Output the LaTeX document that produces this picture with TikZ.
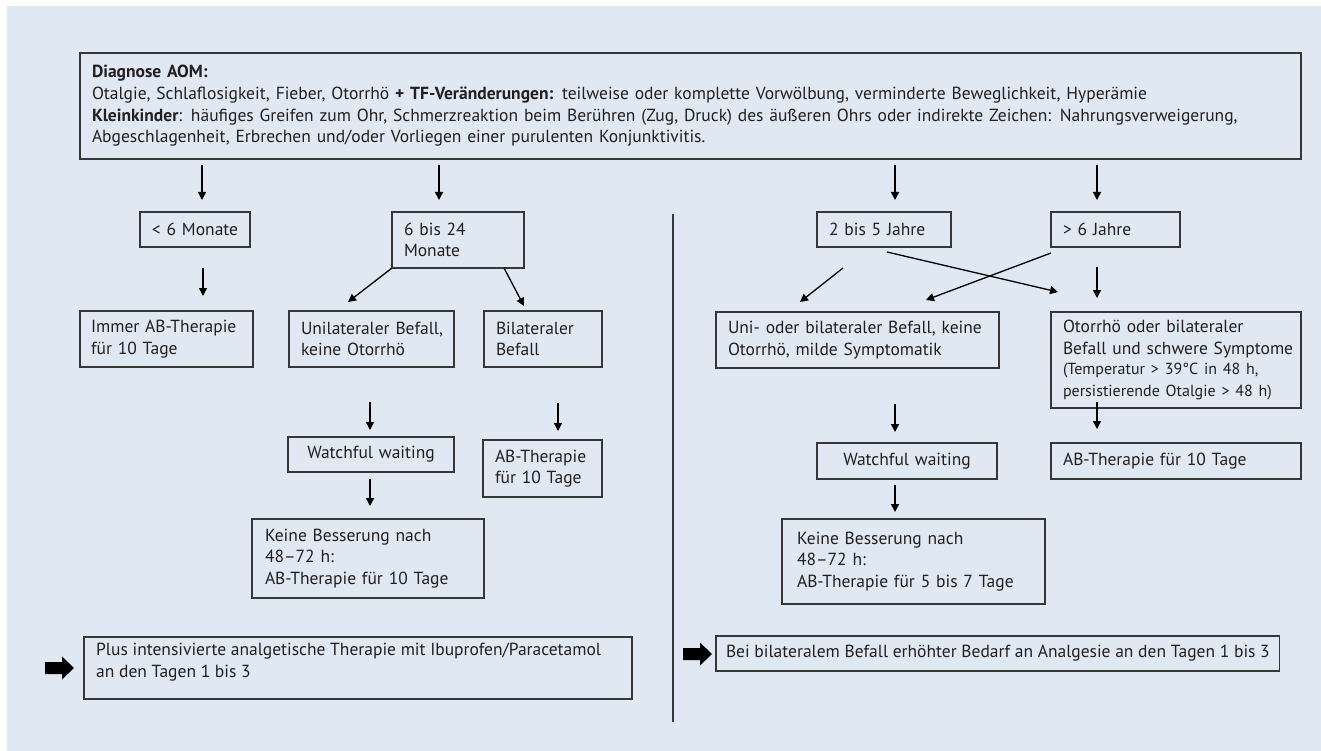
\documentclass[tikz,border=0pt]{standalone}
\usepackage{fontspec}
\setmainfont{PT Sans}
\usetikzlibrary{arrows.meta,calc}
\definecolor{bgblue}{RGB}{223,232,243}
\definecolor{bordergray}{RGB}{55,55,55}
\definecolor{txt}{RGB}{35,31,32}
\begin{document}
\begin{tikzpicture}[x=1pt,y=-1pt,
  font=\fontsize{17.5}{21.7}\selectfont,
  bx/.style={draw=bordergray, line width=1.2pt, inner xsep=12pt, inner ysep=0pt, outer sep=0pt, align=left, text=txt},
  arr/.style={-{Triangle[length=8pt,width=8pt]}, line width=1.3pt, black}]
\useasboundingbox (0,0) rectangle (1321,751);
\fill[white] (0,0) rectangle (1321,751);
\fill[bgblue] (7,6) rectangle (1321,751);

% boxes
\node[bx, text width=1197pt, minimum height=106pt] (T) at (690.5,106) {\textbf{Diagnose AOM:}\\
\mbox{Otalgie, Schlaflosigkeit, Fieber, Otorrhö \textbf{+ TF-Veränderungen:} teilweise oder komplette Vorwölbung, verminderte Beweglichkeit, Hyperämie}\\
\mbox{\textbf{Kleinkinder}: häufiges Greifen zum Ohr, Schmerzreaktion beim Berühren (Zug, Druck) des äußeren Ohrs oder indirekte Zeichen: Nahrungsverweigerung,}\\
\mbox{Abgeschlagenheit, Erbrechen und/oder Vorliegen einer purulenten Konjunktivitis.}};

\node[bx, text width=92pt, inner xsep=9pt, minimum height=35pt, align=center] (A) at (195,229.5) {\mbox{< 6 Monate}};
\node[bx, text width=108pt, minimum height=56pt] (B) at (458,240) {6 bis 24\\Monate};
\node[bx, text width=151pt, inner xsep=11pt, minimum height=56pt] (C) at (166.5,339) {\mbox{Immer AB-Therapie}\\für 10 Tage};
\node[bx, text width=141pt, minimum height=56pt] (D) at (371.5,339) {\mbox{Unilateraler Befall,}\\keine Otorrhö};
\node[bx, text width=94pt, minimum height=56pt] (E) at (543,339) {Bilateraler\\Befall};
\node[bx, text width=142pt, minimum height=35pt, align=center] (F) at (371,454.5) {\mbox{Watchful waiting}};
\node[bx, text width=95pt, minimum height=57pt] (G) at (542.5,468.5) {AB-Therapie\\für 10 Tage};
\node[bx, text width=206pt, inner xsep=13pt, minimum height=79pt] (H) at (368,558.5) {Keine Besserung nach\\48–72 h:\\\mbox{AB-Therapie für 10 Tage}};

\node[bx, text width=110pt, minimum height=35pt] (I) at (884,229.5) {\mbox{2 bis 5 Jahre}};
\node[bx, text width=105pt, minimum height=35pt] (J) at (1115.5,229.5) {> 6 Jahre};
\node[bx, text width=259pt, minimum height=56pt] (K) at (857.5,340) {\mbox{Uni- oder bilateraler Befall, keine}\\\mbox{Otorrhö, milde Symptomatik}};
\node[bx, text width=226pt, minimum height=96pt] (L) at (1176,360) {Otorrhö oder bilateraler\\\mbox{Befall und schwere Symptome}\\{\fontsize{16}{20}\selectfont \mbox{(Temperatur > 39°C in 48 h,}\\\mbox{persistierende Otalgie > 48 h)}}};
\node[bx, text width=156pt, minimum height=36pt, align=center] (M) at (907,461) {\mbox{Watchful waiting}};
\node[bx, text width=226pt, minimum height=36pt] (N) at (1176,461) {\mbox{AB-Therapie für 10 Tage}};
\node[bx, text width=233pt, inner xsep=15pt, minimum height=85pt] (O) at (913.5,561.5) {Keine Besserung nach\\48–72 h:\\\mbox{AB-Therapie für 5 bis 7 Tage}};

% bottom boxes
\node[draw=bordergray, line width=1.2pt, minimum width=548pt, minimum height=62pt, inner sep=0pt, outer sep=0pt] (P) at (358,668) {};
\node[anchor=north west, align=left, inner sep=0pt, text=txt] (Ptext) at ($(P.north west)+(12,6)$) {\mbox{Plus intensivierte analgetische Therapie mit Ibuprofen/Paracetamol}\\an den Tagen 1 bis 3};
\node[bx, anchor=west, inner xsep=10pt, minimum height=35pt] (Q) at (716,653.5) {Bei bilateralem Befall erhöhter Bedarf an Analgesie an den Tagen 1 bis 3};

% block arrows
\fill[black] (45,662) -- (62,662) -- (62,656.5) -- (74,668) -- (62,679.5) -- (62,674) -- (45,674) -- cycle;
\fill[black] (683,648) -- (700,648) -- (700,642.5) -- (712,654) -- (700,665.5) -- (700,660) -- (683,660) -- cycle;

% divider
\draw[bordergray, line width=1.5pt] (673,214) -- (673,722);

% x positions for vertical arrows
\coordinate (xa) at (202,0);
\coordinate (xb) at (439,0);
\coordinate (xc) at (895,0);
\coordinate (xd) at (1097,0);
\coordinate (xe) at (203,0);
\coordinate (xf) at (370,0);
\coordinate (xg) at (558,0);

% connectors
\draw[arr, shorten <=6pt, shorten >=12pt] (T.south -| xa) -- (A.north -| xa);
\draw[arr, shorten <=6pt, shorten >=12pt] (T.south -| xb) -- (B.north -| xb);
\draw[arr, shorten <=6pt, shorten >=12pt] (T.south -| xc) -- (I.north -| xc);
\draw[arr, shorten <=6pt, shorten >=12pt] (T.south -| xd) -- (J.north -| xd);

\draw[arr, shorten <=21pt, shorten >=15pt] (A.south -| xe) -- (C.north -| xe);
\coordinate (bd) at (348,302);
\draw[arr] (B.south west) -- (bd);
\coordinate (bs) at (504,268);
\coordinate (be) at (524,306);
\draw[arr] (bs) -- (be);
\draw[arr, shorten <=35pt, shorten >=7pt] (D.south -| xf) -- (F.north -| xf);
\draw[arr, shorten <=36pt, shorten >=9pt] (E.south -| xg) -- (G.north -| xg);
\draw[arr, shorten <=7pt, shorten >=13pt] (F.south -| xf) -- (H.north -| xf);

\coordinate (is1) at (843,268);
\coordinate (ie1) at (800,302);
\coordinate (is2) at (887,252);
\coordinate (ie2) at (1058,292);
\coordinate (js1) at (1051,253);
\coordinate (je1) at (926,300);
\draw[arr] (is1) -- (ie1);
\draw[arr] (is2) -- (ie2);
\draw[arr] (js1) -- (je1);
\draw[arr, shorten <=20pt, shorten >=14pt] (J.south -| xd) -- (L.north -| xd);
\draw[arr, shorten <=36pt, shorten >=11pt] (K.south -| xc) -- (M.north -| xc);
\draw[arr, shorten <=-6pt, shorten >=14pt] (L.south -| xd) -- (N.north -| xd);
\draw[arr, shorten <=6pt, shorten >=7pt] (M.south -| xc) -- (O.north -| xc);
\end{tikzpicture}
\end{document}
